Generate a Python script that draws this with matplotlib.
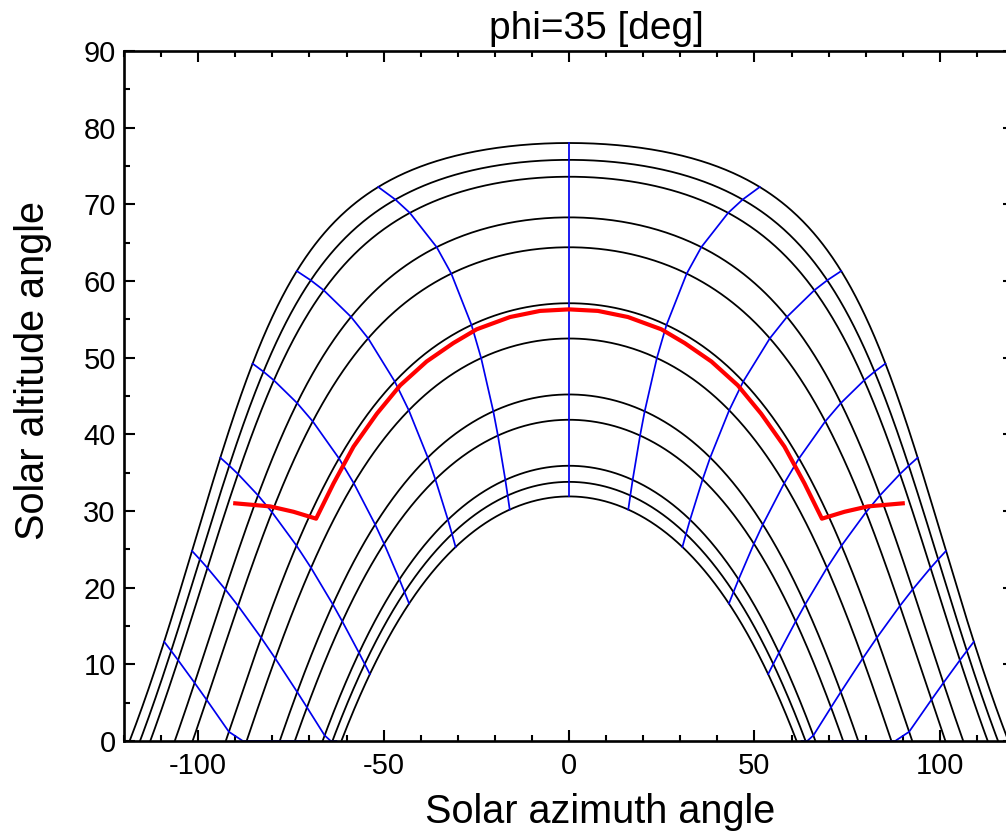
import numpy as np
import matplotlib
matplotlib.use("Agg")
import matplotlib.pyplot as plt
from matplotlib.ticker import MultipleLocator

# ---------------- data ----------------
latitude = 35.0
# noon altitude of each black sun-path curve (deg)
noon_altitudes = [78.0, 75.8, 73.6, 68.3, 64.4, 57.1, 52.5, 45.2, 41.9, 35.9, 33.8, 31.9]
# hour angles of the blue hour lines (deg)
hour_angles = [-90, -75, -60, -45, -30, -15, 0, 15, 30, 45, 60, 75, 90]
# red curve
red_azimuth = [-90.0, -80.6, -74.3, -68.2, -63.5, -58.1, -51.8, -45.5, -38.4,
               -31.2, -24.9, -15.9, -7.8, 0.0, 7.8, 15.9, 24.9, 31.2, 38.4,
               45.5, 51.8, 58.1, 63.5, 68.2, 74.3, 80.6, 90.0]
red_altitude = [31.0, 30.6, 29.9, 29.0, 33.6, 38.4, 42.7, 46.4, 49.5,
                51.9, 53.7, 55.3, 56.1, 56.3, 56.1, 55.3, 53.7, 51.9, 49.5,
                46.4, 42.7, 38.4, 33.6, 29.0, 29.9, 30.6, 31.0]
title_text = "phi=35 [deg]"
x_label = "Solar azimuth angle"
y_label = "Solar altitude angle"


def sun_position(dec, h, phi):
    d, hr, p = np.radians(dec), np.radians(h), np.radians(phi)
    sin_alt = np.sin(p) * np.sin(d) + np.cos(p) * np.cos(d) * np.cos(hr)
    alt = np.degrees(np.arcsin(np.clip(sin_alt, -1, 1)))
    az = np.degrees(np.arctan2(np.cos(d) * np.sin(hr),
                               np.cos(d) * np.cos(hr) * np.sin(p) - np.sin(d) * np.cos(p)))
    return az, alt


declinations = [a - (90.0 - latitude) for a in noon_altitudes]

plt.rcParams["font.family"] = ["Liberation Sans", "DejaVu Sans"]
plt.rcParams["axes.unicode_minus"] = False

fig = plt.figure(figsize=(10.06, 8.31), dpi=100)
ax = fig.add_axes([124 / 1006, 90 / 831, (1014 - 124) / 1006, 690 / 831])

# black sun paths
h_fine = np.linspace(-180, 180, 1441)
for dec in declinations:
    az, alt = sun_position(dec, h_fine, latitude)
    ax.plot(az, alt, color="black", lw=1.3, zorder=2)

# blue hour lines
for h in hour_angles:
    az, alt = sun_position(np.array(declinations), h, latitude)
    ax.plot(az, np.maximum(alt, 0), color="#0000ee", lw=1.25, zorder=3)

# red curve
ax.plot(red_azimuth, red_altitude, color="#ff0000", lw=3.0, zorder=4,
        solid_joinstyle="round")

ax.set_xlim(-120, 120)
ax.set_ylim(0, 90)
ax.xaxis.set_major_locator(MultipleLocator(50))
ax.xaxis.set_minor_locator(MultipleLocator(10))
ax.yaxis.set_major_locator(MultipleLocator(10))
ax.yaxis.set_minor_locator(MultipleLocator(5))
ax.tick_params(which="both", direction="in", top=True, right=True, width=1.5)
ax.tick_params(which="major", length=8, labelsize=21, pad=8)
ax.tick_params(axis="y", which="major", pad=6)
ax.tick_params(which="minor", length=4.5)
for s in ax.spines.values():
    s.set_linewidth(1.9)
    s.set_zorder(10)

ax.set_xlabel(x_label, fontsize=28.5)
ax.xaxis.set_label_coords((600 - 124) / 890, -(812 - 741) / 690)
ax.xaxis.label.set_va("center")
ax.set_ylabel(y_label, fontsize=28.5)
ax.yaxis.set_label_coords(-(124 - 33) / 890, (741 - 370) / 690)
ax.yaxis.label.set_va("center")
fig.text(596 / 1006, 1 - 29 / 831, title_text, fontsize=28, ha="center", va="center")

fig.savefig("out.png", dpi=100)
